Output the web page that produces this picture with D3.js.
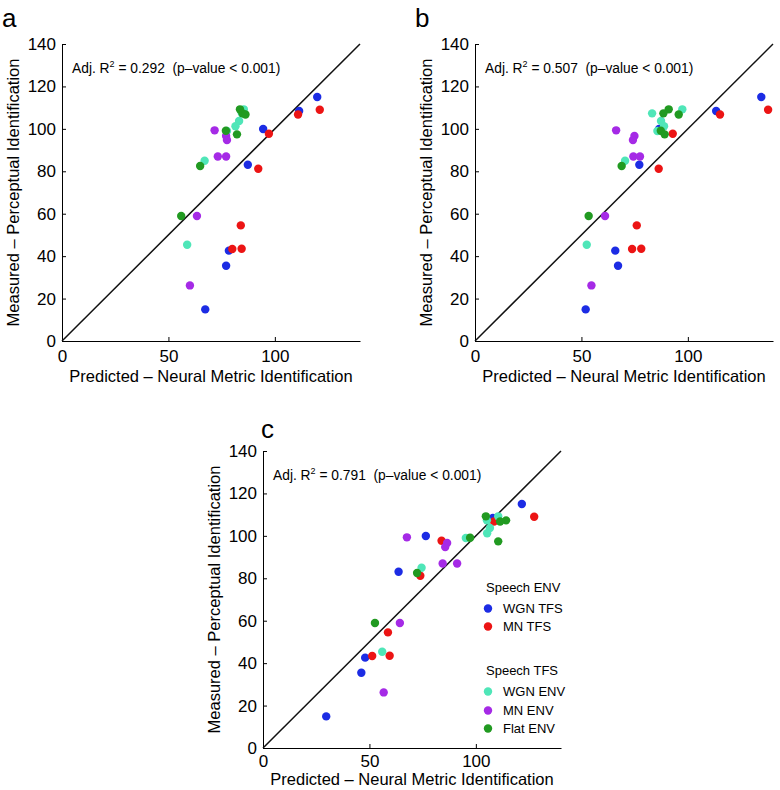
<!DOCTYPE html>
<html><head><meta charset="utf-8">
<script src="https://cdn.jsdelivr.net/npm/d3@7"></script>
<style>body{margin:0;background:#fff}svg{font-family:"Liberation Sans",Arial,Helvetica,sans-serif}</style>
</head><body>
<script>
// ---- data ----
const groups = ["WGN TFS","MN TFS","WGN ENV","MN ENV","Flat ENV"];
const colors = ["#1c2ce4","#ec1414","#4fe6b8","#a52ae6","#219a21"];
// measured (perceptual identification), same for all panels
const measuredWGNTFS = [115, 108.4, 99.9, 83.1, 42.6, 35.5, 14.9];
const measuredMNTFS  = [109, 106.8, 97.7, 81.2, 54.5, 43.4, 43.5];
const measuredWGNENV = [109.2, 107.3, 103.7, 101.2, 99.0, 85.0, 45.4];
const measuredMNENV  = [99.3, 96.6, 94.7, 87.0, 87.0, 58.9, 26.2];
const measuredFlatENV= [109.2, 107.3, 106.8, 99.1, 97.4, 82.5, 58.9];
// predicted (neural metric) per panel
const predA_WGNTFS = [119.9, 111.4, 94.5, 87.3, 78.4, 77.1, 67.3];
const predA_MNTFS  = [121.1, 110.9, 97.2, 92.2, 84.0, 80.0, 84.4];
const predA_WGNENV = [85.4, 84.5, 83.2, 81.5, 77.5, 67.0, 58.8];
const predA_MNENV  = [71.7, 77.1, 77.5, 73.2, 77.1, 63.4, 60.1];
const predA_FlatENV= [83.6, 84.8, 86.2, 77.0, 82.2, 64.9, 56.0];
const predB_WGNTFS = [134.5, 113.3, 86.5, 77.2, 65.9, 67.2, 52.0];
const predB_MNTFS  = [137.7, 115.1, 92.9, 86.3, 76.0, 73.8, 78.1];
const predB_WGNENV = [97.4, 83.2, 87.4, 88.8, 85.7, 70.5, 52.5];
const predB_MNENV  = [66.3, 74.9, 74.2, 74.4, 77.5, 61.1, 54.7];
const predB_FlatENV= [91.0, 88.5, 95.7, 87.3, 89.1, 68.9, 53.4];
const predC_WGNTFS = [121.6, 108.0, 76.5, 63.7, 48.0, 46.2, 29.7];
const predC_MNTFS  = [127.4, 108.5, 83.9, 73.9, 58.7, 51.3, 59.5];
const predC_WGNENV = [110.5, 105.2, 106.6, 105.3, 95.3, 74.5, 56.0];
const predC_MNENV  = [67.6, 86.5, 85.6, 84.4, 91.2, 64.3, 56.7];
const predC_FlatENV= [104.7, 114.2, 111.4, 97.3, 110.5, 72.4, 52.6];
const r2Labels = ["0.292","0.507","0.791"];
const panelLetters = ["a","b","c"];
const xTicks = [0, 50, 100];
const yTicks = [0, 20, 40, 60, 80, 100, 120, 140];
const legendHeads = ["Speech ENV","Speech TFS"];

const measured = [measuredWGNTFS, measuredMNTFS, measuredWGNENV, measuredMNENV, measuredFlatENV];
const predicted = [
  [predA_WGNTFS, predA_MNTFS, predA_WGNENV, predA_MNENV, predA_FlatENV],
  [predB_WGNTFS, predB_MNTFS, predB_WGNENV, predB_MNENV, predB_FlatENV],
  [predC_WGNTFS, predC_MNTFS, predC_WGNENV, predC_MNENV, predC_FlatENV]
];

const W = 780, H = 790;
const svg = d3.select("body").append("svg").attr("width", W).attr("height", H);

const panels = [
  {x0: 62, y0: 44, titleDy: 41, tickPad: 9, letterX: -60, letterY: -17},
  {x0: 475, y0: 44, titleDy: 41, tickPad: 9, letterX: -60, letterY: -17},
  {x0: 263, y0: 451, titleDy: 37, tickPad: 7, letterX: -2, letterY: -13}
];
const size = 298, sizeY = 297;

panels.forEach((p, i) => {
  const g = svg.append("g").attr("transform", `translate(${p.x0},${p.y0})`);
  const x = d3.scaleLinear().domain([0, 140]).range([0, size]);
  const y = d3.scaleLinear().domain([0, 140]).range([sizeY, 0]);

  const xa = g.append("g").attr("transform", `translate(0,${sizeY})`)
    .call(d3.axisBottom(x).tickValues(xTicks).tickSize(-4).tickPadding(p.tickPad).tickSizeOuter(0));
  const ya = g.append("g")
    .call(d3.axisLeft(y).tickValues(yTicks).tickSize(-4).tickPadding(6).tickSizeOuter(0));
  [xa, ya].forEach(a => {
    a.select(".domain").attr("stroke", "#000").attr("stroke-width", 1);
    a.selectAll(".tick line").attr("stroke", "#000");
    a.selectAll(".tick text").attr("font-size", 17).attr("fill", "#000")
      .attr("font-family", "Liberation Sans, Arial, sans-serif");
  });
  xa.selectAll(".tick text").attr("dy", "0.71em");

  // identity line
  g.append("line").attr("x1", x(0)).attr("y1", y(0)).attr("x2", x(140)).attr("y2", y(140))
    .attr("stroke", "#111").attr("stroke-width", 1.5);

  // points
  groups.forEach((gname, gi) => {
    const pts = measured[gi].map((m, k) => ({px: predicted[i][gi][k], m}));
    g.selectAll(null).data(pts).enter().append("circle")
      .attr("cx", d => x(d.px)).attr("cy", d => y(d.m)).attr("r", 4.2)
      .attr("fill", colors[gi]);
  });

  // annotation
  const t = g.append("text").attr("x", 10).attr("y", 29).attr("font-size", 13.8).attr("fill", "#000")
    .attr("xml:space", "preserve").style("white-space", "pre");
  t.append("tspan").text("Adj. R");
  t.append("tspan").text("2").attr("font-size", 9).attr("dy", -6);
  t.append("tspan").text(` = ${r2Labels[i]}  (p\u2013value < 0.001)`).attr("dy", 6);

  // axis titles
  g.append("text").attr("x", size / 2).attr("y", sizeY + p.titleDy).attr("text-anchor", "middle")
    .attr("font-size", 16.5).attr("fill", "#000").text("Predicted \u2013 Neural Metric Identification");
  g.append("text").attr("transform", `translate(-43,${sizeY / 2}) rotate(-90)`)
    .attr("text-anchor", "middle").attr("font-size", 16.5).attr("fill", "#000")
    .text("Measured \u2013 Perceptual Identification");

  // panel letter
  g.append("text").attr("x", p.letterX).attr("y", p.letterY).attr("font-size", 26).attr("fill", "#000")
    .text(panelLetters[i]);
});

// legend in panel c
const lg = svg.append("g");
const legRows = [
  {type: "head", text: legendHeads[0], y: 592},
  {type: "item", gi: 0, y: 613},
  {type: "item", gi: 1, y: 631},
  {type: "head", text: legendHeads[1], y: 675},
  {type: "item", gi: 2, y: 696},
  {type: "item", gi: 3, y: 715},
  {type: "item", gi: 4, y: 733}
];
legRows.forEach(r => {
  if (r.type === "head") {
    lg.append("text").attr("x", 486).attr("y", r.y).attr("font-size", 13).attr("fill", "#000").text(r.text);
  } else {
    lg.append("circle").attr("cx", 488).attr("cy", r.y - 4.5).attr("r", 4.2).attr("fill", colors[r.gi]);
    lg.append("text").attr("x", 503).attr("y", r.y).attr("font-size", 13).attr("fill", "#000").text(groups[r.gi]);
  }
});
</script>
</body></html>
